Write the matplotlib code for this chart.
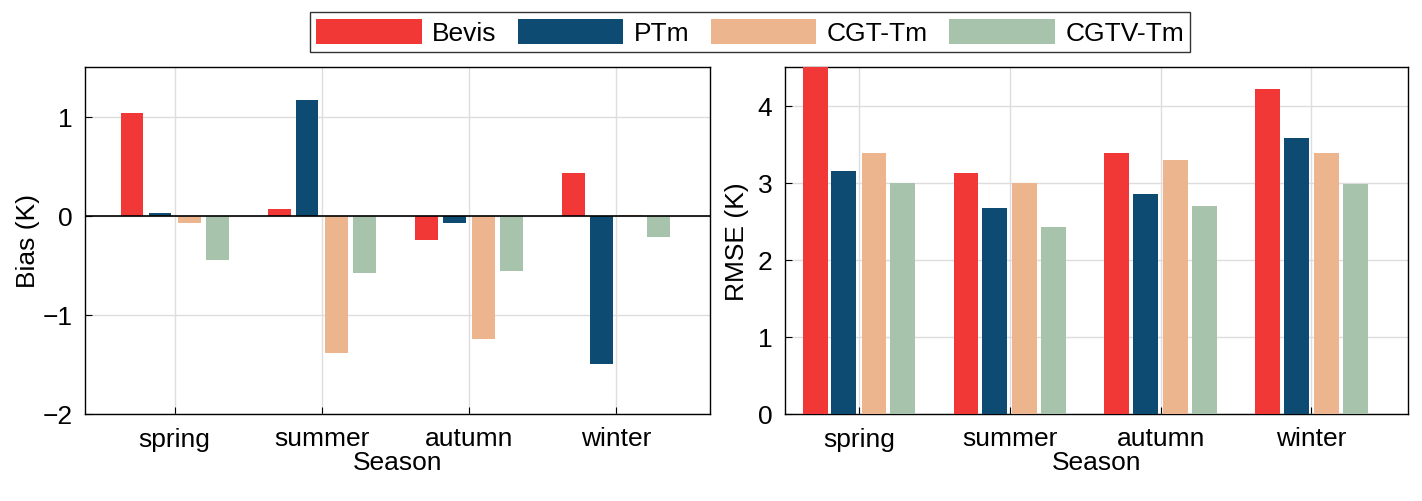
import matplotlib.pyplot as plt
import numpy as np

plt.rcParams['font.family'] = ['Liberation Sans', 'DejaVu Sans']
plt.rcParams['font.size'] = 19

seasons = ['spring', 'summer', 'autumn', 'winter']
models = ['Bevis', 'PTm', 'CGT-Tm', 'CGTV-Tm']
colors = ['#F23737', '#0E4B72', '#EDB58E', '#A8C3AB']

bias = {
    'Bevis': [1.04, 0.07, -0.24, 0.43],
    'PTm': [0.03, 1.17, -0.07, -1.50],
    'CGT-Tm': [-0.07, -1.38, -1.24, 0.01],
    'CGTV-Tm': [-0.45, -0.58, -0.56, -0.21],
}
rmse = {
    'Bevis': [4.60, 3.13, 3.39, 4.22],
    'PTm': [3.15, 2.67, 2.85, 3.58],
    'CGT-Tm': [3.38, 3.00, 3.29, 3.38],
    'CGTV-Tm': [3.00, 2.42, 2.70, 2.98],
}

fig = plt.figure(figsize=(14.22, 5.02), dpi=100)
ax1 = fig.add_axes([85/1422, 1-415/502, 625/1422, 347/502])
ax2 = fig.add_axes([785/1422, 1-415/502, 623/1422, 347/502])

x = np.arange(1, 5)
offs = [-0.29, -0.1, 0.1, 0.29]
handles = []
for ax, data, w in [(ax1, bias, 0.155), (ax2, rmse, 0.165)]:
    for m, c, o in zip(models, colors, offs):
        b = ax.bar(x + o, data[m], width=w, color=c, zorder=3)
        if ax is ax1:
            handles.append(b)
    ax.set_xticks(x)
    ax.set_xticklabels(seasons)
    ax.set_xlabel('Season', labelpad=0)
    ax.grid(True, color='#dddddd', linewidth=1, zorder=0)
    ax.tick_params(direction='in', length=5, pad=9, top=False, right=False)
    for s in ax.spines.values():
        s.set_linewidth(1.0)

ax1.set_xlim(0.39, 4.64)
ax1.set_ylim(-2, 1.5)
ax1.set_yticks([-2, -1, 0, 1])
ax1.set_yticklabels(['\u22122', '\u22121', '0', '1'])
ax1.axhline(0, color='black', linewidth=1.2, zorder=4)
ax1.set_ylabel('Bias (K)', labelpad=2)

ax2.set_xlim(0.51, 4.64)
ax2.set_ylim(0, 4.5)
ax2.set_yticks([0, 1, 2, 3, 4])
ax2.set_ylabel('RMSE (K)', labelpad=6)

fig.legend(handles, models, loc='center', bbox_to_anchor=(750/1422, 1-33/502),
           ncol=4, frameon=True, edgecolor='black', fancybox=False,
           handlelength=4.0, handleheight=1.1, columnspacing=0.8,
           handletextpad=0.4, borderpad=0.25)

fig.savefig('out.png', dpi=100)
